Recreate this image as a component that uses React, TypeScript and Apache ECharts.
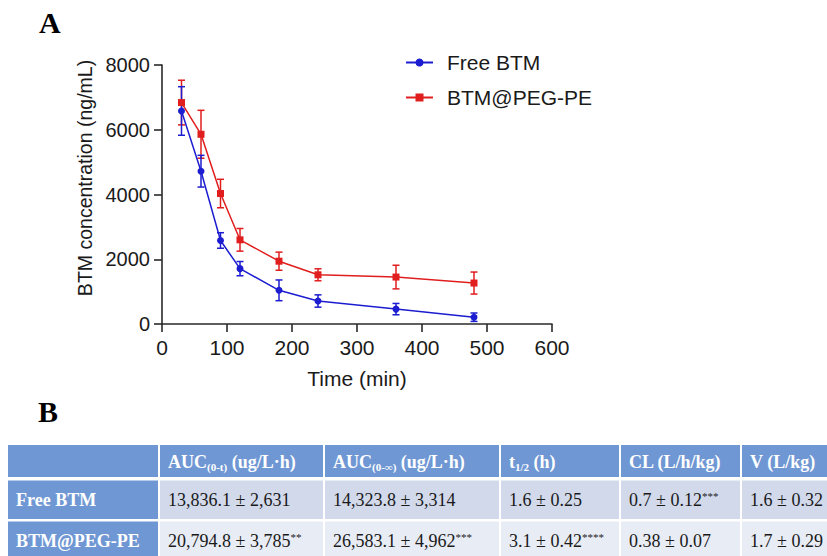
import React, { useEffect, useRef } from "react";
import * as echarts from "echarts";

// ---------- data ----------
const timeMin = [30, 60, 90, 120, 180, 240, 360, 480];
const freeMean = [6580, 4720, 2580, 1710, 1040, 710, 460, 210];
const freeSd = [750, 490, 240, 220, 320, 190, 175, 130];
const pegMean = [6840, 5860, 4030, 2600, 1940, 1520, 1450, 1265];
const pegSd = [690, 740, 440, 350, 280, 185, 365, 340];
const seriesNames = ["Free BTM", "BTM@PEG-PE"];

const xTickMin = 0;
const xTickMax = 600;
const xTickStep = 100;
const yTickMin = 0;
const yTickMax = 8000;
const yTickStep = 2000;
const xAxisTitle = "Time (min)";
const yAxisTitle = "BTM concentration (ng/mL)";

// table (segments: main text, optional sub/sup)
type Seg = { t: string; k?: "sub" | "sup" };
const tableHeader: Seg[][] = [
  [],
  [{ t: "AUC" }, { t: "(0-t)", k: "sub" }, { t: " (ug/L·h)" }],
  [{ t: "AUC" }, { t: "(0-∞)", k: "sub" }, { t: " (ug/L·h)" }],
  [{ t: "t" }, { t: "1/2", k: "sub" }, { t: " (h)" }],
  [{ t: "CL (L/h/kg)" }],
  [{ t: "V (L/kg)" }],
];
const tableRowLabels = ["Free BTM", "BTM@PEG-PE"];
const tableValues: Seg[][][] = [
  [
    [{ t: "13,836.1 ± 2,631" }],
    [{ t: "14,323.8 ± 3,314" }],
    [{ t: "1.6 ± 0.25" }],
    [{ t: "0.7 ± 0.12" }, { t: "***", k: "sup" }],
    [{ t: "1.6 ± 0.32" }],
  ],
  [
    [{ t: "20,794.8 ± 3,785" }, { t: "**", k: "sup" }],
    [{ t: "26,583.1 ± 4,962" }, { t: "***", k: "sup" }],
    [{ t: "3.1 ± 0.42" }, { t: "****", k: "sup" }],
    [{ t: "0.38 ± 0.07" }],
    [{ t: "1.7 ± 0.29" }],
  ],
];

// ---------- styles / layout ----------
const BLUE = "#1c1cd0";
const RED = "#e01e1e";
const AXIS = "#2a2a2a";
const TXT = "#1a1a1a";
const SANS = "Liberation Sans, Arial, sans-serif";
const SERIF = "Liberation Serif";
const HEAD_BG = "#6f97d3";
const ROW_BG = ["#d1d9eb", "#e8ecf5"];
const colEdges: [number, number][] = [
  [8, 158],
  [160, 323],
  [325, 499],
  [501, 619],
  [621, 740],
  [742, 830],
];
const rowEdges: [number, number][] = [
  [445, 477],
  [480.5, 519],
  [521.5, 560],
];

function buildTable(): any[] {
  const canvas = document.createElement("canvas");
  const ctx = canvas.getContext("2d") as CanvasRenderingContext2D;
  const measure = (text: string, size: number, weight: string) => {
    ctx.font = `${weight} ${size}px "${SERIF}"`;
    return ctx.measureText(text).width;
  };
  const els: any[] = [];
  const drawSegs = (segs: Seg[], x0: number, cy: number, bold: boolean, fill: string) => {
    let x = x0;
    const weight = bold ? "bold" : "normal";
    segs.forEach((s) => {
      const size = s.k ? 11 : 18;
      const dy = s.k === "sub" ? 5 : s.k === "sup" ? -4 : 0;
      els.push({
        type: "text",
        x,
        y: cy + dy,
        style: {
          text: s.t,
          fontSize: size,
          fontFamily: SERIF,
          fontWeight: weight,
          fill,
          align: "left",
          verticalAlign: "middle",
        },
      });
      x += measure(s.t, size, weight);
    });
  };
  rowEdges.forEach((r, ri) => {
    colEdges.forEach((c, ci) => {
      const bg = ri === 0 || ci === 0 ? HEAD_BG : ROW_BG[ri - 1];
      els.push({
        type: "rect",
        shape: { x: c[0], y: r[0], width: c[1] - c[0], height: r[1] - r[0] },
        style: { fill: bg },
      });
      const cy = (r[0] + Math.min(r[1], 562)) / 2 + 0.5;
      if (ri === 0) {
        drawSegs(tableHeader[ci], c[0] + 8, cy, true, "#ffffff");
      } else if (ci === 0) {
        drawSegs([{ t: tableRowLabels[ri - 1] }], c[0] + 8, cy, true, "#ffffff");
      } else {
        drawSegs(tableValues[ri - 1][ci - 1], c[0] + 8, cy, false, TXT);
      }
    });
  });
  return els;
}

function errorSeries(name: string, mean: number[], sd: number[], color: string) {
  return {
    name: name + " SD",
    type: "custom",
    silent: true,
    z: 2,
    data: timeMin.map((t, i) => [t, mean[i] - sd[i], mean[i] + sd[i]]),
    encode: { x: 0, y: [1, 2] },
    renderItem: (params: any, api: any) => {
      const x = api.value(0);
      const lo = api.coord([x, api.value(1)]);
      const hi = api.coord([x, api.value(2)]);
      const w = 3.5;
      const style = { stroke: color, lineWidth: 1.5 };
      return {
        type: "group",
        children: [
          { type: "line", shape: { x1: lo[0], y1: lo[1], x2: hi[0], y2: hi[1] }, style },
          { type: "line", shape: { x1: hi[0] - w, y1: hi[1], x2: hi[0] + w, y2: hi[1] }, style },
          { type: "line", shape: { x1: lo[0] - w, y1: lo[1], x2: lo[0] + w, y2: lo[1] }, style },
        ],
      };
    },
  };
}

export default function App() {
  const ref = useRef<HTMLDivElement>(null);
  useEffect(() => {
    if (!ref.current) return;
    const chart = echarts.init(ref.current, null, { renderer: "svg" });
    const axisCommon = {
      type: "value",
      axisLine: { show: true, lineStyle: { color: AXIS, width: 1.6 } },
      axisTick: { show: true, length: 8, lineStyle: { color: AXIS, width: 1.6 } },
      axisLabel: {
        fontSize: 20,
        color: TXT,
        fontFamily: SANS,
        margin: 12,
        formatter: (v: number) => String(v),
      },
      splitLine: { show: false },
    };
    chart.setOption({
      animation: false,
      backgroundColor: "#ffffff",
      grid: { left: 162, right: 275, top: 65, bottom: 232, outerBoundsMode: "none" },
      xAxis: {
        ...axisCommon,
        min: xTickMin,
        max: xTickMax,
        interval: xTickStep,
        name: xAxisTitle,
        nameLocation: "middle",
        nameGap: 44,
        nameTextStyle: { fontSize: 21, color: TXT, fontFamily: SANS },
        axisLabel: { ...axisCommon.axisLabel, fontSize: 21, margin: 13 },
      },
      yAxis: {
        ...axisCommon,
        min: yTickMin,
        max: yTickMax,
        interval: yTickStep,
      },
      legend: {
        data: seriesNames,
        orient: "vertical",
        left: 400,
        top: 47,
        itemWidth: 27,
        itemHeight: 10,
        itemGap: 14,
        textStyle: { fontSize: 21, color: TXT, fontFamily: SANS, padding: [0, 0, 0, 9] },
      },
      series: [
        errorSeries(seriesNames[1], pegMean, pegSd, RED),
        errorSeries(seriesNames[0], freeMean, freeSd, BLUE),
        {
          name: seriesNames[1],
          type: "line",
          data: timeMin.map((t, i) => [t, pegMean[i]]),
          symbol: "rect",
          symbolSize: 7,
          lineStyle: { color: RED, width: 1.5 },
          itemStyle: { color: RED },
          z: 3,
        },
        {
          name: seriesNames[0],
          type: "line",
          data: timeMin.map((t, i) => [t, freeMean[i]]),
          symbol: "circle",
          symbolSize: 7,
          lineStyle: { color: BLUE, width: 1.5 },
          itemStyle: { color: BLUE },
          z: 4,
        },
      ],
      graphic: [
        {
          type: "text",
          x: 85,
          y: 178,
          rotation: Math.PI / 2,
          style: {
            text: yAxisTitle,
            fontSize: 19.5,
            fontFamily: SANS,
            fill: TXT,
            align: "center",
            verticalAlign: "middle",
          },
        },
        {
          type: "text",
          left: 39,
          top: 7,
          style: { text: "A", fontSize: 30, fontWeight: "bold", fontFamily: SERIF, fill: "#000" },
        },
        {
          type: "text",
          left: 38,
          top: 396,
          style: { text: "B", fontSize: 30, fontWeight: "bold", fontFamily: SERIF, fill: "#000" },
        },
        ...buildTable(),
      ],
    });
    return () => chart.dispose();
  }, []);
  return (
    <div
      ref={ref}
      style={{ position: "absolute", left: 0, top: 0, width: 827, height: 556, background: "#fff" }}
    />
  );
}
